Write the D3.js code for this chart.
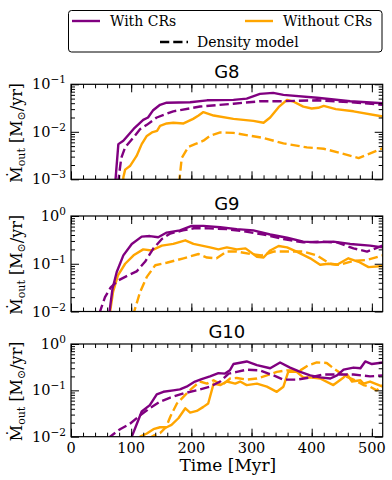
<!DOCTYPE html>
<html><head><meta charset="utf-8">
<script src="https://cdn.jsdelivr.net/npm/d3@7"></script>
<style>
body{margin:0;background:#fff;}
svg{display:block;}
text{font-family:"DejaVu Serif",serif;fill:#000;}
</style></head>
<body>
<svg id="c" width="392" height="480"></svg>
<script>
// ---------------- DATA ----------------
const panels = ["G8", "G9", "G10"];
const yDomains = [[1e-3, 1e-1], [1e-2, 1e0], [1e-2, 1e0]];
const xTicks = [0, 100, 200, 300, 400, 500];
const legendLabels = ["With CRs", "Without CRs", "Density model"];

// [time (Myr), outflow rate (Msun/yr)]
const g8_with = [[72,0.0008],[74,0.001],[78.7,0.0055],[87,0.0065],[104,0.0115],[120,0.0178],[128,0.020],[136,0.028],[148,0.037],[159,0.041],[198,0.042],[226,0.046],[270,0.047],[292,0.050],[314,0.063],[336,0.066],[353,0.060],[409,0.052],[464,0.044],[518,0.040]];
const g8_with_dens = [[78,0.0008],[83.5,0.0028],[90,0.0047],[101,0.0069],[115,0.0114],[126,0.014],[142.5,0.020],[170,0.027],[214.5,0.034],[270,0.039],[314,0.044],[353,0.044],[409,0.046],[464,0.042],[518,0.037]];
const g8_without = [[86.5,0.0008],[87,0.0011],[90,0.0016],[98,0.0019],[109,0.0031],[117.5,0.0055],[126,0.0082],[134.5,0.0097],[143,0.0105],[148,0.0134],[159,0.015],[170,0.0155],[187,0.015],[203,0.0187],[212,0.022],[220,0.026],[237,0.022],[270,0.0187],[303,0.017],[320,0.0155],[331,0.020],[345,0.033],[359,0.047],[370,0.043],[386,0.034],[400,0.031],[411,0.032],[420,0.035],[440,0.030],[469.5,0.027],[518,0.021]];
const g8_without_dens = [[179.5,0.0008],[184,0.0028],[195,0.0048],[206,0.0055],[220,0.0065],[231,0.0082],[248,0.0097],[270,0.0095],[320,0.0074],[353,0.0057],[392,0.0047],[420,0.0044],[447,0.0036],[478,0.0028],[518,0.0045]];

const g9_with = [[63,0.008],[64,0.01],[69,0.030],[76,0.067],[87,0.15],[101,0.26],[117.5,0.37],[131,0.38],[145,0.36],[159,0.45],[181,0.50],[200.5,0.62],[220,0.62],[248,0.58],[275.5,0.53],[303,0.50],[331,0.41],[359,0.35],[386,0.29],[408,0.28],[436,0.29],[464,0.26],[497,0.24],[518,0.22]];
const g9_with_dens = [[47,0.009],[56.5,0.020],[66,0.032],[79,0.045],[95,0.057],[109,0.069],[123,0.11],[137,0.21],[151,0.33],[165,0.43],[186,0.50],[206,0.56],[229,0.55],[259,0.53],[286.5,0.48],[320,0.41],[353,0.33],[386,0.28],[414,0.29],[442,0.28],[469.5,0.21],[492,0.18],[518,0.24]];
const g9_without = [[64.5,0.008],[65,0.01],[70,0.026],[78,0.057],[90,0.10],[104,0.15],[120,0.20],[134,0.19],[151,0.24],[170,0.26],[190,0.31],[203.5,0.26],[231,0.22],[245,0.20],[259,0.22],[275.5,0.20],[290,0.21],[309,0.14],[320,0.135],[331,0.19],[345,0.235],[359,0.22],[375,0.18],[397.5,0.13],[414,0.095],[428,0.10],[442,0.095],[461,0.13],[478,0.11],[494.5,0.085],[518,0.09]];
const g9_without_dens = [[104,0.008],[105,0.01],[115,0.026],[126,0.053],[140,0.093],[159,0.105],[187,0.13],[212,0.16],[226,0.135],[242,0.13],[259,0.18],[275.5,0.18],[298,0.16],[317,0.15],[337,0.18],[359,0.18],[386,0.18],[408,0.15],[431,0.10],[447,0.095],[469.5,0.115],[492,0.12],[518,0.15]];

const g10_with = [[99,0.008],[101,0.01],[117.5,0.035],[131,0.048],[142.5,0.082],[153.5,0.093],[170,0.10],[181,0.105],[192,0.12],[206,0.155],[217,0.175],[231,0.20],[245,0.235],[256,0.23],[264,0.27],[270,0.37],[292,0.42],[309,0.35],[331,0.30],[347.5,0.40],[364,0.31],[381,0.25],[397.5,0.21],[414,0.19],[431,0.18],[442,0.21],[453,0.28],[469.5,0.31],[481,0.30],[489,0.42],[500,0.37],[518,0.40]];
const g10_with_dens = [[62,0.009],[65,0.01],[81.5,0.0145],[98,0.019],[115,0.029],[131,0.041],[148,0.057],[165,0.07],[187,0.086],[209,0.10],[231,0.12],[248,0.155],[262,0.23],[275.5,0.25],[292,0.28],[314,0.27],[336.5,0.21],[353,0.17],[375,0.17],[397.5,0.19],[420,0.22],[442,0.22],[469.5,0.22],[497,0.20],[518,0.21]];
const g10_without = [[112,0.009],[115,0.01],[126,0.0117],[137,0.0145],[148,0.016],[159,0.016],[167,0.018],[178.5,0.025],[190,0.041],[198,0.033],[209,0.036],[220,0.044],[228,0.052],[237,0.14],[248,0.13],[259,0.155],[273,0.14],[281,0.155],[292,0.13],[309,0.14],[325.5,0.12],[342,0.093],[353,0.12],[361,0.25],[375,0.25],[386,0.19],[397.5,0.19],[414,0.18],[436,0.13],[453,0.19],[459,0.22],[467,0.155],[481,0.165],[486,0.14],[497,0.155],[518,0.12]];
const g10_without_dens = [[128,0.009],[137,0.0105],[148,0.012],[158,0.016],[165,0.027],[176,0.052],[190,0.08],[201,0.11],[214,0.155],[226,0.14],[237,0.165],[251,0.13],[264.5,0.18],[275.5,0.185],[292,0.17],[309,0.18],[325.5,0.21],[342,0.25],[359,0.27],[381,0.27],[395,0.35],[408.5,0.40],[425,0.39],[436,0.30],[453,0.21],[469.5,0.17],[486,0.13],[497,0.12],[508,0.10],[518,0.13]];

const panelSeries = [
  [g8_with, g8_with_dens, g8_without, g8_without_dens],
  [g9_with, g9_with_dens, g9_without, g9_without_dens],
  [g10_with, g10_with_dens, g10_without, g10_without_dens]
];

// ---------------- DRAW ----------------
const purple = "#800080", orange = "#FFA500";
const seriesStyle = [
  {color: purple, dash: null},
  {color: purple, dash: "9.25,4"},
  {color: orange, dash: null},
  {color: orange, dash: "9.25,4"}
];
const drawOrder = [3, 2, 1, 0];

const svg = d3.select("#c");
const left = 71, right = 382.7;
const boxes = [[84.3, 179.3], [216, 311.5], [344, 436.7]];
const x = d3.scaleLinear().domain([0, 518]).range([left, right]);
const minorX = d3.range(0, 519, 20);

boxes.forEach((b, i) => {
  const [top, bot] = b;
  const y = d3.scaleLog().domain(yDomains[i]).range([bot, top]);
  const g = svg.append("g");
  const clipId = "clip" + i;
  svg.append("clipPath").attr("id", clipId).append("rect")
    .attr("x", left).attr("y", top).attr("width", right - left).attr("height", bot - top);

  const line = d3.line().x(d => x(d[0])).y(d => y(d[1]));
  const lg = g.append("g").attr("clip-path", `url(#${clipId})`);
  drawOrder.forEach(k => {
    const st = seriesStyle[k];
    lg.append("path").datum(panelSeries[i][k])
      .attr("d", line).attr("fill", "none")
      .attr("stroke", st.color).attr("stroke-width", 2.4)
      .attr("stroke-linejoin", "round")
      .attr("stroke-dasharray", st.dash);
  });

  const [d0, d1] = yDomains[i];
  const minorY = [];
  for (let e = Math.log10(d0); e < Math.log10(d1); e++) {
    for (let m = 2; m <= 9; m++) minorY.push(m * Math.pow(10, e));
  }
  const majorY = [];
  for (let e = Math.log10(d0); e <= Math.log10(d1) + 1e-9; e++) majorY.push(Math.pow(10, e));

  const styleAxis = sel => {
    sel.select(".domain").remove();
    sel.selectAll("line").attr("stroke", "#000").attr("stroke-width", 1);
    sel.selectAll("text").remove();
  };
  g.append("g").attr("transform", `translate(0,${bot})`)
    .call(d3.axisBottom(x).tickValues(minorX).tickSize(-4)).call(styleAxis);
  g.append("g").attr("transform", `translate(0,${bot})`)
    .call(d3.axisBottom(x).tickValues(xTicks).tickSize(-8)).call(styleAxis);
  g.append("g").attr("transform", `translate(0,${top})`)
    .call(d3.axisTop(x).tickValues(minorX).tickSize(-4)).call(styleAxis);
  g.append("g").attr("transform", `translate(0,${top})`)
    .call(d3.axisTop(x).tickValues(xTicks).tickSize(-8)).call(styleAxis);
  g.append("g").attr("transform", `translate(${left},0)`)
    .call(d3.axisLeft(y).tickValues(minorY).tickSize(-4)).call(styleAxis);
  g.append("g").attr("transform", `translate(${left},0)`)
    .call(d3.axisLeft(y).tickValues(majorY).tickSize(-8)).call(styleAxis);
  g.append("g").attr("transform", `translate(${right},0)`)
    .call(d3.axisRight(y).tickValues(minorY).tickSize(-4)).call(styleAxis);
  g.append("g").attr("transform", `translate(${right},0)`)
    .call(d3.axisRight(y).tickValues(majorY).tickSize(-8)).call(styleAxis);

  g.append("rect").attr("x", left).attr("y", top).attr("width", right - left).attr("height", bot - top)
    .attr("fill", "none").attr("stroke", "#000").attr("stroke-width", 1.2);

  majorY.forEach(v => {
    const e = Math.round(Math.log10(v));
    const t = g.append("text").attr("x", left - 5).attr("y", y(v) + 5)
      .attr("text-anchor", "end").attr("font-size", 14.5);
    t.append("tspan").text("10");
    t.append("tspan").attr("dy", -6).attr("font-size", 10.5).text(e === 0 ? "0" : "\u2212" + Math.abs(e));
  });

  g.append("text").attr("x", (left + right) / 2).attr("y", top - 6)
    .attr("text-anchor", "middle").attr("font-size", 18)
    .style("font-family", "'DejaVu Sans',sans-serif").text(panels[i]);

  const yl = g.append("text")
    .attr("transform", `translate(22,${(top + bot) / 2 + 1}) rotate(-90)`)
    .attr("text-anchor", "middle").attr("font-size", 16);
  yl.append("tspan").text("\u1E40");
  yl.append("tspan").attr("dy", 3).attr("font-size", 11).text("out");
  yl.append("tspan").attr("dy", -3).text(" [M");
  yl.append("tspan").attr("dy", 3).attr("font-size", 11).text("\u2299");
  yl.append("tspan").attr("dy", -3).text("/yr]");

  if (i === 2) {
    xTicks.forEach(v => {
      g.append("text").attr("x", x(v)).attr("y", bot + 16).attr("text-anchor", "middle")
        .attr("font-size", 14.5).text(v);
    });
    g.append("text").attr("x", (left + right) / 2 + 1).attr("y", bot + 34).attr("text-anchor", "middle")
      .attr("font-size", 17).text("Time [Myr]");
  }
});

const lgd = svg.append("g");
lgd.append("rect").attr("x", 68.5).attr("y", 10.5).attr("width", 313.5).attr("height", 41.5)
  .attr("rx", 3).attr("fill", "#fff").attr("stroke", "#000").attr("stroke-width", 1);
const legendItems = [
  {lx: 72, ly: 21, color: purple, dash: null, tx: 110, ty: 26, label: legendLabels[0]},
  {lx: 245, ly: 21, color: orange, dash: null, tx: 283, ty: 26, label: legendLabels[1]},
  {lx: 160, ly: 42, color: "#000", dash: "9.25,4", tx: 197, ty: 47, label: legendLabels[2]}
];
legendItems.forEach(it => {
  lgd.append("line").attr("x1", it.lx).attr("x2", it.lx + 28).attr("y1", it.ly).attr("y2", it.ly)
    .attr("stroke", it.color).attr("stroke-width", 2.4).attr("stroke-dasharray", it.dash);
  lgd.append("text").attr("x", it.tx).attr("y", it.ty).attr("font-size", 14).text(it.label);
});
</script>
</body></html>
